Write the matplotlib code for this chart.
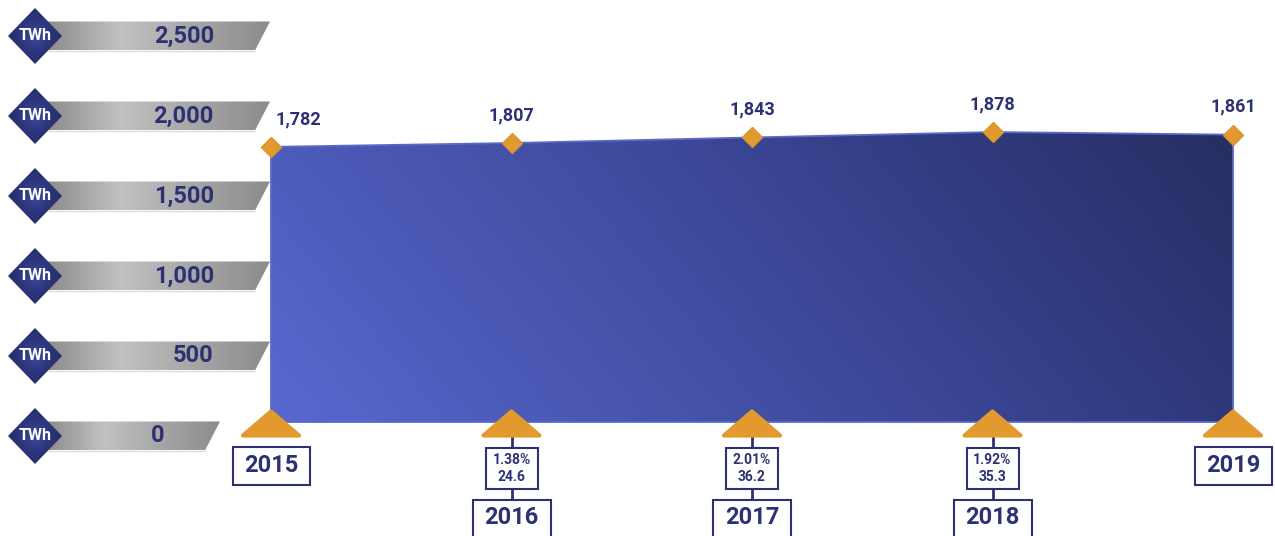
import numpy as np
import matplotlib.pyplot as plt
from matplotlib.patches import Polygon, Rectangle
from matplotlib.colors import LinearSegmentedColormap

# data
years = ['2015', '2016', '2017', '2018', '2019']
twh = [1782, 1807, 1843, 1878, 1861]
growth_pct = [None, '1.38%', '2.01%', '1.92%', None]
growth_abs = [None, '24.6', '36.2', '35.3', None]
tick_vals = [0, 500, 1000, 1500, 2000, 2500]

NAVY = '#2b3172'
ORANGE = '#e29a2e'
FONT = 'Roboto'
W = 'bold'

fig = plt.figure(figsize=(12.75, 5.36), dpi=100)

# ---- main chart axes (full figure) ----
ax = fig.add_axes([0, 0, 1, 1])
PX = 240.5   # pixels per year step
K = 0.1544   # pixels per TWh
def ox(p): return p / PX
def oy(p): return p / K

x = np.arange(len(years))

# area with diagonal gradient
verts = [(x[0], 0)] + list(zip(x, twh)) + [(x[-1], 0)]
area = Polygon(verts, closed=True, facecolor='none', edgecolor='#5b69c9', lw=1.3, zorder=3)
ax.add_patch(area)
area_cmap = LinearSegmentedColormap.from_list('area', ['#5868cf', '#4654ac', '#36408a', '#262e62'])
gx, gy = np.meshgrid(np.linspace(0, 1, 300), np.linspace(0, 1, 100))
grad = 0.8 * gx + 0.2 * gy
img = ax.imshow(grad, cmap=area_cmap, extent=[x[0], x[-1], 0, max(twh)], origin='lower',
                aspect='auto', zorder=2, interpolation='bilinear')
img.set_clip_path(area)

# markers + value labels
ax.plot(x, twh, ls='none', marker='D', ms=10.5, color=ORANGE, mec='#d8952a', zorder=6)
label_dx = [20, 0, 0, 0, 0]
for xi, v, ddx in zip(x, twh, label_dx):
    ax.annotate(f'{v:,}', (xi, v), xytext=(ddx, 20), textcoords='offset points',
                ha='center', va='center', fontsize=13, fontweight=W,
                color=NAVY, family=FONT, zorder=7)

# triangles, connectors, boxes
for i, xi in enumerate(x):
    tri = Polygon([(xi - ox(28), oy(-13.5)), (xi + ox(28), oy(-13.5)), (xi, oy(10.5))],
                  closed=True, facecolor=ORANGE, edgecolor=ORANGE, lw=3,
                  joinstyle='round', zorder=5)
    ax.add_patch(tri)
    if growth_pct[i] is None:
        ax.add_patch(Rectangle((xi - ox(38.5), oy(-63)), ox(77), oy(38),
                               facecolor='white', edgecolor=NAVY, lw=1.5, zorder=5))
        ax.text(xi, oy(-44), years[i], ha='center', va='center', fontsize=17,
                fontweight=W, color=NAVY, family=FONT, zorder=6)
    else:
        ax.plot([xi, xi], [oy(-15), oy(-80)], color=NAVY, lw=2, zorder=4)
        ax.add_patch(Rectangle((xi - ox(26), oy(-67)), ox(52), oy(41),
                               facecolor='white', edgecolor=NAVY, lw=1.5, zorder=5))
        ax.text(xi, oy(-46.5), f'{growth_pct[i]}\n{growth_abs[i]}', ha='center', va='center',
                fontsize=10, fontweight=W, color=NAVY, family=FONT,
                linespacing=1.35, zorder=6)
        ax.add_patch(Rectangle((xi - ox(39), oy(-120)), ox(78), oy(42),
                               facecolor='white', edgecolor=NAVY, lw=1.5, zorder=5))
        ax.text(xi, oy(-96), years[i], ha='center', va='center', fontsize=17,
                fontweight=W, color=NAVY, family=FONT, zorder=6)

ax.set_xlim(-271 / PX, (1275 - 271) / PX)
ax.set_ylim(oy(-114), oy(422))
ax.axis('off')

# ---- left value scale ----
lax = fig.add_axes([0, 0, 1, 1])
lax.patch.set_alpha(0)
S = 0.16  # pixels per TWh on the scale strip
def sy(p): return p / S

gray_cmap = LinearSegmentedColormap.from_list('gray', ['#8a8a8a', '#c2c2c2', '#a6a6a6', '#8c8c8c'])
navy_cmap = LinearSegmentedColormap.from_list('navy', ['#3c4ca0', '#2e3780', '#262c68'])
hx = np.linspace(0, 1, 200)[None, :]
rx, ry = np.meshgrid(np.linspace(-1, 1, 80), np.linspace(-1, 1, 80))
rad = np.clip(np.hypot(rx, ry), 0, 1)

for v in tick_vals:
    r_top = 220 if v == 0 else 270
    r_bot = r_top - 15
    bar = Polygon([(45, v - sy(14.5)), (r_bot, v - sy(14.5)), (r_top, v + sy(14.5)),
                   (45, v + sy(14.5))], closed=True, facecolor='none', edgecolor='none')
    lax.add_patch(bar)
    bi = lax.imshow(hx, cmap=gray_cmap, extent=[45, r_top, v - sy(14.5), v + sy(14.5)],
                    aspect='auto', zorder=2, interpolation='bilinear')
    bi.set_clip_path(bar)
    lax.plot([45, r_bot], [v - sy(14.5), v - sy(14.5)], color='#dcdcdc', lw=1, zorder=3)
    lax.text(r_top - 56, v, f'{v:,}', ha='right', va='center', fontsize=17, fontweight=W,
             color=NAVY, family=FONT, zorder=4)
    dia = Polygon([(35 - 27, v), (35, v + sy(28)), (35 + 27, v), (35, v - sy(28))],
                  closed=True, facecolor='none', edgecolor='none')
    lax.add_patch(dia)
    di = lax.imshow(rad, cmap=navy_cmap, extent=[8, 62, v - sy(28), v + sy(28)],
                    aspect='auto', zorder=5, interpolation='bilinear')
    di.set_clip_path(dia)
    lax.text(35, v, 'TWh', ha='center', va='center', fontsize=11.5, fontweight=W,
             color='white', family=FONT, zorder=6)

lax.set_xlim(0, 1275)
lax.set_ylim(-625, 2725)
lax.axis('off')

fig.savefig('out.png', dpi=100)
